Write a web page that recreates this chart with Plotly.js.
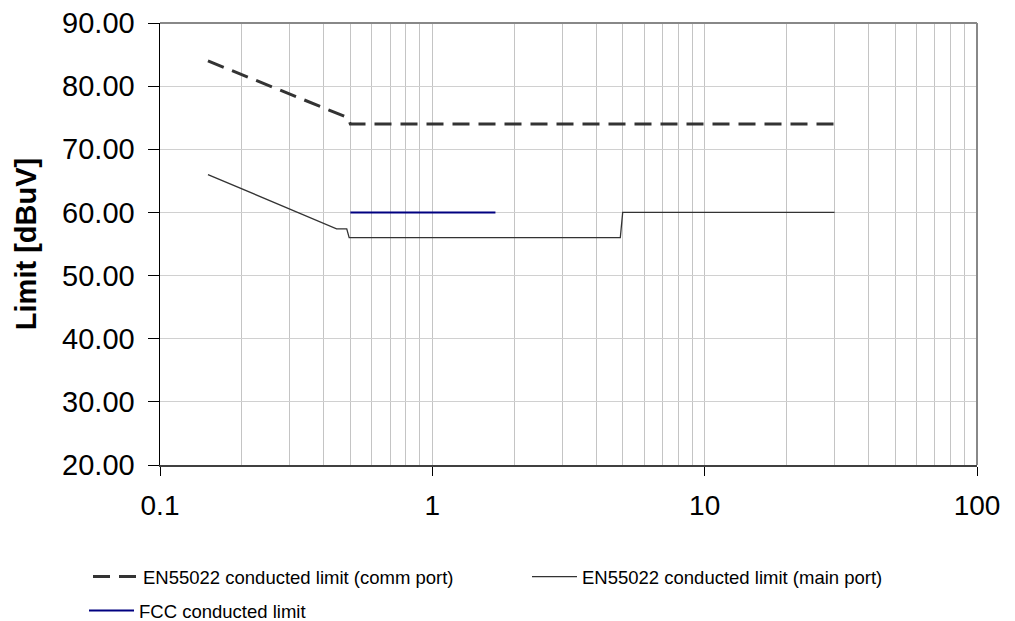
<!DOCTYPE html>
<html>
<head>
<meta charset="utf-8">
<script src="https://cdn.plot.ly/plotly-3.0.1.min.js"></script>
<style>html,body{margin:0;padding:0;background:#fff;}#chart{width:1015px;height:621px;}</style>
</head>
<body>
<div id="chart"></div>
<script>
// Frequencies (MHz) and limits (dBuV)
const commFreq = [0.15, 0.44, 0.47, 0.49, 0.5, 30];
const commLimit = [84, 75.8, 75.2, 75.0, 74, 74];

const mainFreq = [0.15, 0.445, 0.485, 0.495, 4.9, 5.0, 30];
const mainLimit = [66, 57.4, 57.4, 56, 56, 60, 60];

const fccFreq = [0.5, 1.705];
const fccLimit = [60, 60];

const seriesNames = [
  "EN55022 conducted limit (comm port)",
  "EN55022 conducted limit (main port)",
  "FCC conducted limit"
];
const xTickVals = [0.1, 1, 10, 100];
const xTickText = ["0.1", "1", "10", "100"];

const FONT = "Arial, 'Liberation Sans', sans-serif";

const traces = [
  {x: commFreq, y: commLimit, name: seriesNames[0], mode: "lines", legend: "legend",
   line: {color: "#333333", width: 3, dash: "17px,9px"}},
  {x: mainFreq, y: mainLimit, name: seriesNames[1], mode: "lines", legend: "legend2",
   line: {color: "#333333", width: 1.3}},
  {x: fccFreq, y: fccLimit, name: seriesNames[2], mode: "lines", legend: "legend3",
   line: {color: "#000080", width: 2}}
];

const legendBase = {
  xref: "container", yref: "container", xanchor: "left", yanchor: "middle",
  orientation: "h", bgcolor: "rgba(0,0,0,0)", borderwidth: 0, itemwidth: 45,
  font: {family: FONT, size: 18.5, color: "#000"}
};

const layout = {
  width: 1015, height: 621,
  paper_bgcolor: "#fff", plot_bgcolor: "#fff",
  margin: {l: 160, r: 38, t: 23, b: 156},
  font: {family: FONT, color: "#000"},
  showlegend: true,
  legend: Object.assign({}, legendBase, {x: 88/1015, y: 1 - 577/621}),
  legend2: Object.assign({}, legendBase, {x: 527/1015, y: 1 - 577/621}),
  legend3: Object.assign({}, legendBase, {x: 84/1015, y: 1 - 611/621}),
  xaxis: {
    type: "log", range: [-1, 2],
    tickmode: "array", tickvals: xTickVals, ticktext: xTickText,
    ticks: "outside", ticklen: 9, tickwidth: 1, tickcolor: "#000",
    tickfont: {family: FONT, size: 28, color: "#000"},
    ticklabelstandoff: 5,
    showgrid: true, gridcolor: "#c4c4c4", gridwidth: 1,
    minor: {dtick: "D1", showgrid: true, gridcolor: "#c4c4c4", gridwidth: 1, ticks: ""},
    showline: true, linecolor: "#404040", linewidth: 2,
    zeroline: false, automargin: false
  },
  yaxis: {
    range: [20, 90], dtick: 10, tick0: 20, tickformat: ".2f",
    ticks: "outside", ticklen: 11, tickwidth: 1, tickcolor: "#000",
    tickfont: {family: FONT, size: 29, color: "#000"},
    ticklabelstandoff: 7,
    showgrid: true, gridcolor: "#d0d0d0", gridwidth: 1,
    showline: true, linecolor: "#000", linewidth: 1.5,
    zeroline: false, automargin: false,
    title: {text: "<b>Limit [dBuV]</b>", standoff: 17, font: {family: FONT, size: 29, color: "#000"}}
  },
  shapes: [
    {type: "line", xref: "paper", yref: "paper", x0: 0, x1: 1, y0: 1, y1: 1,
     line: {color: "#888888", width: 2}},
    {type: "line", xref: "paper", yref: "paper", x0: 1, x1: 1, y0: 0, y1: 1,
     line: {color: "#888888", width: 2}}
  ],
  annotations: [
    {text: "<b>f [MHz]</b>", xref: "container", yref: "container",
     x: 980/1015, y: 1 - 528/621, xanchor: "center", yanchor: "middle",
     showarrow: false, font: {family: FONT, size: 14, color: "#000"}}
  ]
};

Plotly.newPlot("chart", traces, layout, {displayModeBar: false, staticPlot: true});
</script>
</body>
</html>
